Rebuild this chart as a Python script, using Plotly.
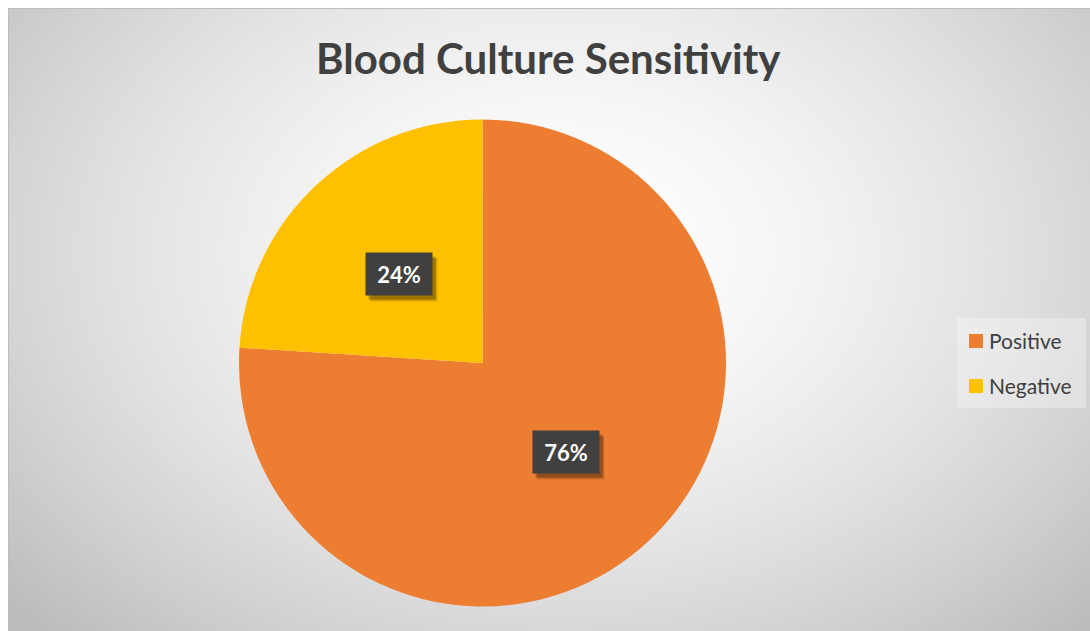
import numpy as np
import plotly.graph_objects as go

# Pie data
categories = ["Positive", "Negative"]
shares = [76, 24]
slice_colors = ["#ED7D31", "#FFC000"]
chart_title = "Blood Culture Sensitivity"

W, H = 1090, 631
FONT = "Lato"
TEXT_GRAY = "#404040"


def px(x):
    return x / W


def py(y):
    return 1 - y / H


# pie geometry (pixels)
cx, cy, r = 482.5, 363.0, 243.5

fig = go.Figure()

# soft radial gradient behind the chart area
left, top = 8, 8
xs = np.arange(left, W + 4, 4)
ys = np.arange(top, H + 4, 4)
X, Y = np.meshgrid(xs, ys)
rr = np.sqrt(((X - 560) / 580) ** 2 + ((Y - 250) / 420) ** 2)
shade = np.clip(255 - 46 * rr ** 1.6, 188, 255)
fig.add_trace(go.Heatmap(
    x=xs, y=ys, z=shade,
    colorscale=[[0, "rgb(0,0,0)"], [1, "rgb(255,255,255)"]],
    zmin=0, zmax=255, zsmooth="best", showscale=False, hoverinfo="skip",
))

fig.add_trace(go.Pie(
    labels=categories,
    values=shares,
    marker=dict(colors=slice_colors, line=dict(width=0)),
    sort=False,
    direction="clockwise",
    rotation=0,
    textinfo="none",
    hoverinfo="label+percent",
    showlegend=False,
    domain=dict(x=[px(cx - r), px(cx + r)], y=[py(cy + r), py(cy - r)]),
))

annotations = []
shapes = []

# title
annotations.append(dict(
    text=f"<b>{chart_title}</b>", x=px(548), y=py(58), xref="paper", yref="paper",
    xanchor="center", yanchor="middle", showarrow=False,
    font=dict(family=FONT, size=42, color=TEXT_GRAY),
))

# percentage labels on dark boxes, placed at each slice's mid-angle
total = sum(shares)
start = 0.0
for val in shares:
    mid = (start + val / 2) / total * 2 * np.pi
    start += val
    lx = cx + 0.5 * r * np.sin(mid)
    ly = cy - 0.5 * r * np.cos(mid)
    label = f"{round(100 * val / total)}%"
    for dx, dy, a in [(5, 6, 0.10), (4, 5, 0.15), (3, 4, 0.20)]:
        annotations.append(dict(
            text="", x=px(lx + dx), y=py(ly + dy), xref="paper", yref="paper",
            xanchor="center", yanchor="middle", showarrow=False,
            width=64, height=40, bgcolor=f"rgba(0,0,0,{a})",
        ))
    annotations.append(dict(
        text=f"<b>{label}</b>", x=px(lx), y=py(ly), xref="paper", yref="paper",
        xanchor="center", yanchor="middle", showarrow=False,
        width=64, height=40, bgcolor="#404040",
        font=dict(family=FONT, size=22, color="white"),
    ))

# legend
shapes.append(dict(type="rect", xref="paper", yref="paper",
                   x0=px(957), x1=px(1086), y0=py(408), y1=py(318),
                   fillcolor="rgba(255,255,255,0.3)", line=dict(width=0)))
for i, (name, col) in enumerate(zip(categories, slice_colors)):
    yc = 341 + 45 * i
    shapes.append(dict(type="rect", xref="paper", yref="paper",
                       x0=px(969), x1=px(983), y0=py(yc + 7), y1=py(yc - 7),
                       fillcolor=col, line=dict(width=0)))
    annotations.append(dict(
        text=name, x=px(987), y=py(yc - 1), xref="paper", yref="paper",
        xanchor="left", yanchor="middle", showarrow=False,
        font=dict(family=FONT, size=21, color=TEXT_GRAY),
    ))

# chart area edges
shapes.append(dict(type="line", xref="paper", yref="paper",
                   x0=px(8), x1=px(W), y0=py(8.5), y1=py(8.5),
                   line=dict(color="#bdbdbd", width=1)))
shapes.append(dict(type="line", xref="paper", yref="paper",
                   x0=px(8.5), x1=px(8.5), y0=py(8), y1=py(H),
                   line=dict(color="#bdbdbd", width=1)))

fig.update_layout(
    width=W, height=H,
    margin=dict(l=0, r=0, t=0, b=0),
    paper_bgcolor="white", plot_bgcolor="white",
    xaxis=dict(domain=[px(left), 1], range=[left, W], visible=False, fixedrange=True),
    yaxis=dict(domain=[0, py(top)], range=[H, top], visible=False, fixedrange=True),
    annotations=annotations,
    shapes=shapes,
    showlegend=False,
)

fig.write_html("out.html")
